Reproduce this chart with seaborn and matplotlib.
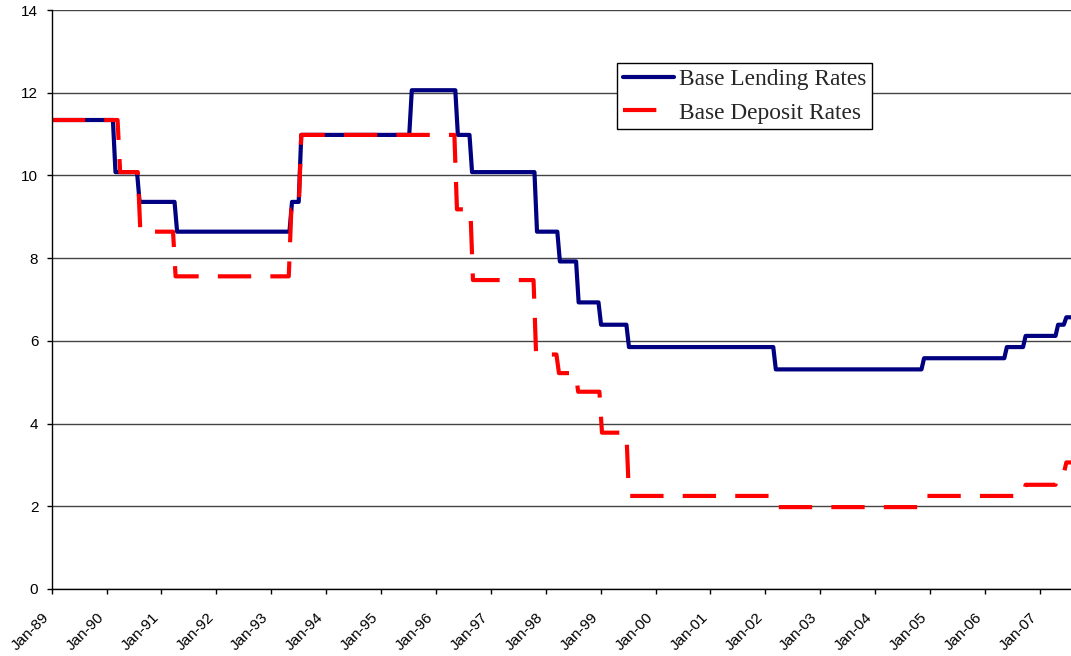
import matplotlib
matplotlib.use("Agg")
import matplotlib.pyplot as plt
import seaborn as sns
import pandas as pd

# ---- data: line vertices ----
# x = months since Jan-1989 (fractional), y = rate in %
lending_x = [0, 13.38, 13.94, 18.65, 19.21, 26.85, 27.41, 51.97, 52.53, 53.99, 54.55,
             78.15, 78.71, 88.22, 88.78, 91.32, 91.88, 105.52, 106.08, 110.52, 111.08,
             114.62, 115.18, 119.52, 120.08, 125.62, 126.18, 157.72, 158.28, 190.12, 190.68,
             208.22, 208.78, 212.32, 212.88, 219.42, 219.98, 221.22, 221.78, 222.8]
lending_y = [11.34, 11.34, 10.08, 10.08, 9.36, 9.36, 8.64, 8.64, 9.36, 9.36, 10.98,
             10.98, 12.06, 12.06, 10.98, 10.98, 10.08, 10.08, 8.64, 8.64, 7.92,
             7.92, 6.93, 6.93, 6.39, 6.39, 5.85, 5.85, 5.31, 5.31, 5.58,
             5.58, 5.85, 5.85, 6.12, 6.12, 6.39, 6.39, 6.57, 6.57]

deposit_x = [0, 14.40, 14.96, 18.82, 19.38, 26.52, 27.08, 51.82, 52.38, 53.99, 54.55,
             88.02, 88.58, 91.52, 92.08, 105.32, 105.88, 110.32, 110.88, 114.52, 115.08,
             119.72, 120.28, 125.62, 126.18, 157.72, 158.28, 190.12, 190.68, 212.32, 212.88,
             219.42, 219.98, 221.22, 221.78, 222.8]
deposit_y = [11.34, 11.34, 10.08, 10.08, 8.64, 8.64, 7.56, 7.56, 9.18, 9.18, 10.98,
             10.98, 9.18, 9.18, 7.47, 7.47, 5.67, 5.67, 5.22, 5.22, 4.77,
             4.77, 3.78, 3.78, 2.25, 2.25, 1.98, 1.98, 2.25, 2.25, 2.52,
             2.52, 2.79, 2.79, 3.06, 3.06]

tick_labels = ["Jan-89", "Jan-90", "Jan-91", "Jan-92", "Jan-93", "Jan-94", "Jan-95",
               "Jan-96", "Jan-97", "Jan-98", "Jan-99", "Jan-00", "Jan-01", "Jan-02",
               "Jan-03", "Jan-04", "Jan-05", "Jan-06", "Jan-07"]
y_ticks = [0, 2, 4, 6, 8, 10, 12, 14]
series_names = ["Base Lending Rates", "Base Deposit Rates"]

lend_df = pd.DataFrame({"month": lending_x, "rate": lending_y})
dep_df = pd.DataFrame({"month": deposit_x, "rate": deposit_y})

sns.set_theme(style="white")
plt.rcParams["font.family"] = ["Liberation Sans", "DejaVu Sans"]

fig = plt.figure(figsize=(10.71, 6.56), dpi=100)
ax = fig.add_axes([51.7 / 1071, 67 / 656, 1019.3 / 1071, 579 / 656])

sns.lineplot(data=lend_df, x="month", y="rate", ax=ax, color="#000080", linewidth=3,
             label=series_names[0], estimator=None, sort=False)
sns.lineplot(data=dep_df, x="month", y="rate", ax=ax, color="#FF0000", linewidth=3,
             label=series_names[1], estimator=None, sort=False)
ax.lines[1].set_dashes((8, 4.6))
ax.lines[1].set_dash_capstyle("butt")
ax.lines[0].set_solid_joinstyle("round")

ax.set_xlim(0, 222.8)
ax.set_ylim(0, 14)
ax.set_yticks(y_ticks)
ax.set_yticklabels([str(v) for v in y_ticks], fontsize=11)
ax.set_xticks([12 * i for i in range(len(tick_labels))])
ax.set_xticklabels(tick_labels, rotation=45, ha="right", va="bottom",
                   rotation_mode="anchor", fontsize=11)
ax.set_xlabel("")
ax.set_ylabel("")

ax.yaxis.grid(True, color="#444444", linewidth=1)
ax.set_axisbelow(True)
for side in ["top", "right"]:
    ax.spines[side].set_visible(False)
for side in ["left", "bottom"]:
    ax.spines[side].set_color("black")
    ax.spines[side].set_linewidth(1)
ax.tick_params(axis="both", direction="out", length=3.6, width=1, color="black",
               bottom=True, left=True, labelcolor="black")
ax.tick_params(axis="y", pad=6)
ax.tick_params(axis="x", pad=19)

leg = ax.legend(loc="upper left", bbox_to_anchor=(0.5546, 0.9085), borderaxespad=0,
                frameon=True, fancybox=False, edgecolor="black", framealpha=1,
                handlelength=2.2, handletextpad=0.2, borderpad=0.25, labelspacing=0.52,
                prop={"family": "Liberation Serif", "size": 16.8})
leg.get_frame().set_linewidth(1)

fig.savefig("out.png", dpi=100)
